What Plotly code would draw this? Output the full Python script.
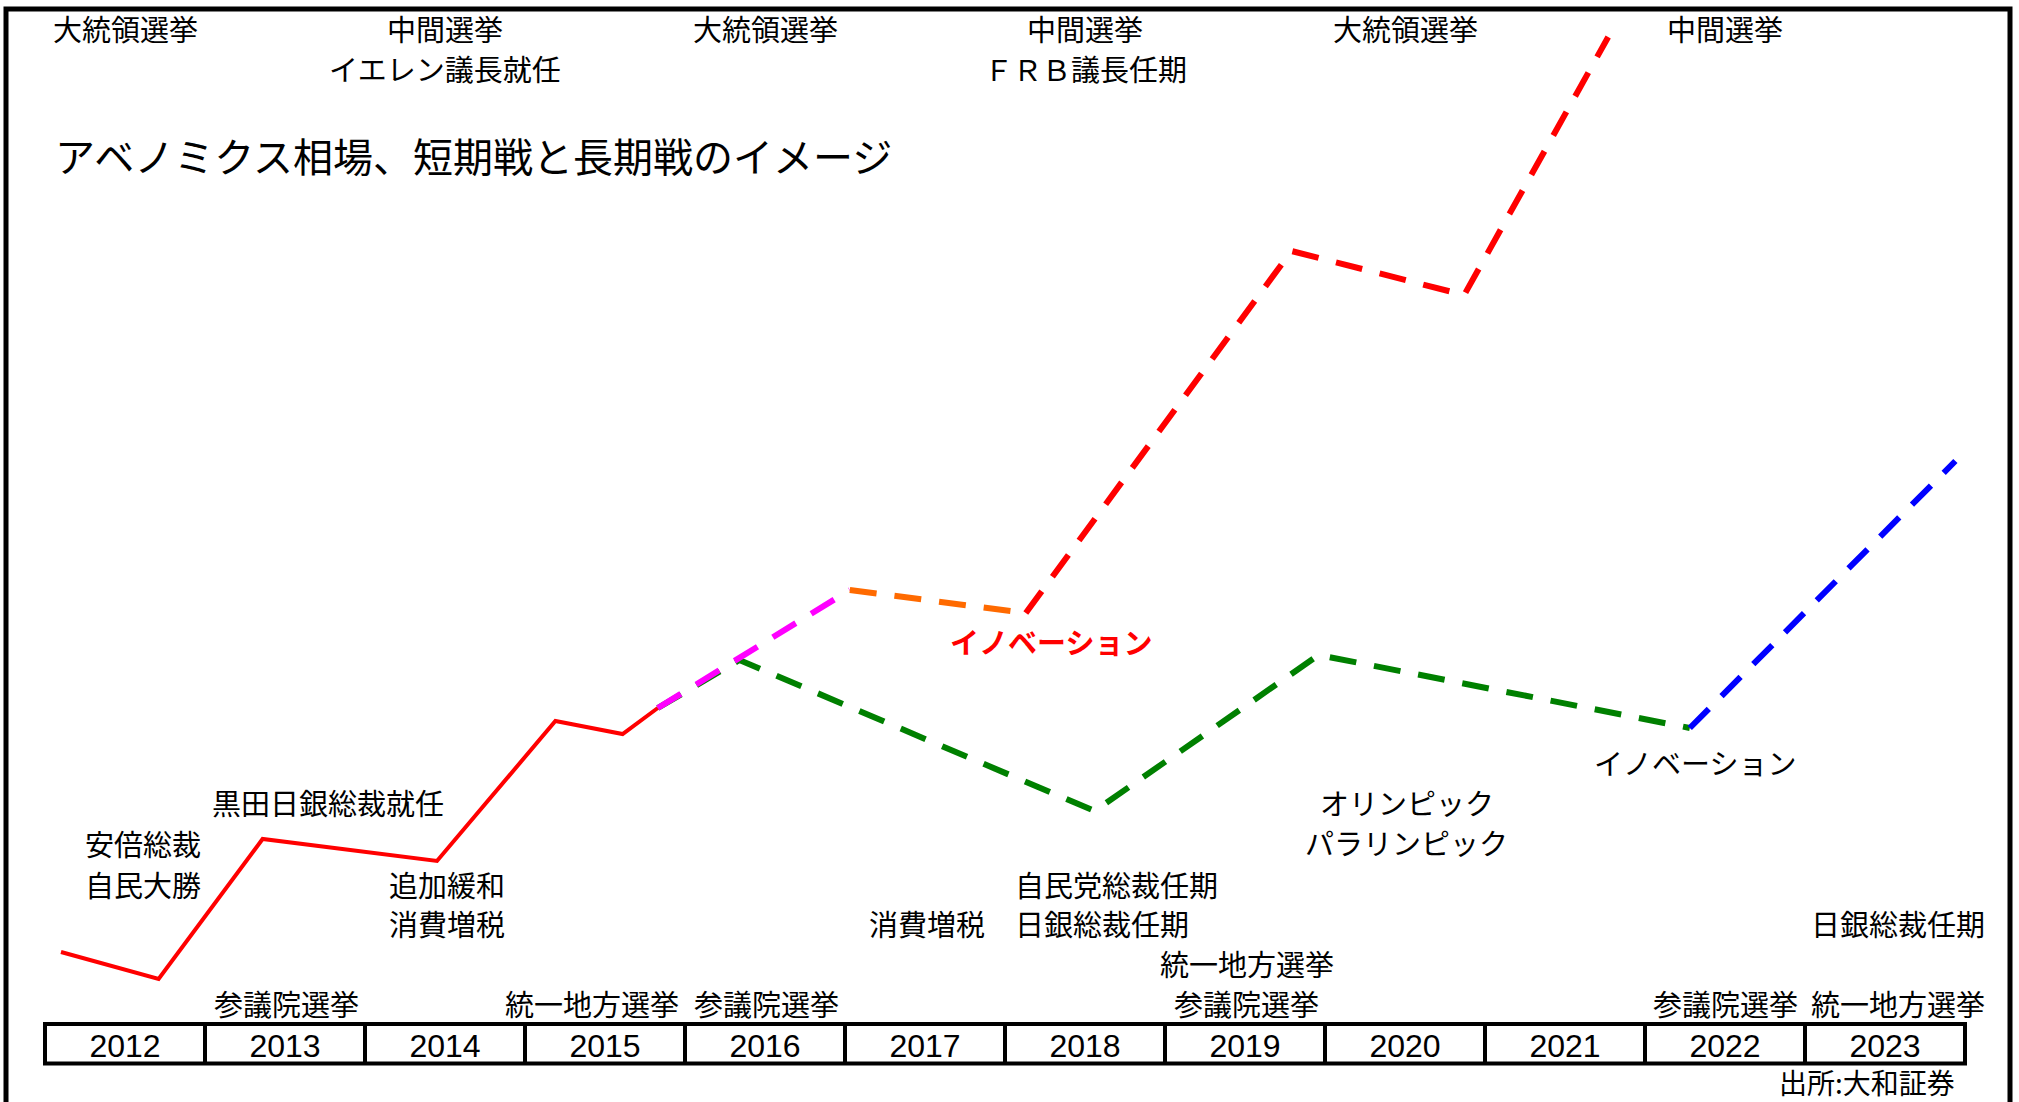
import plotly.graph_objects as go

# ---- data ---------------------------------------------------------------
years = list(range(2012, 2024))
year_labels = [str(y) for y in years]

# realised market path (solid red)
base_x = [2012.10, 2012.71, 2013.36, 2014.45, 2015.19, 2015.61, 2015.83]
base_y = [7.2, 4.5, 18.5, 16.3, 30.3, 29.0, 31.6]

# short-term scenario
short_x = [2015.83, 2017.03]
short_y = [31.6, 43.4]
plateau_x = [2017.03, 2018.13]
plateau_y = [43.4, 41.1]
boom_x = [2018.13, 2019.79, 2020.87, 2021.77]
boom_y = [41.1, 77.3, 72.9, 98.7]

# long-term scenario
long_x = [2015.83, 2016.34, 2018.56, 2019.96, 2022.28]
long_y = [31.6, 36.4, 21.3, 36.9, 29.6]
late_x = [2022.28, 2023.94]
late_y = [29.6, 56.3]

# event labels: text, x (year), y (index)
top_events = [
    ("大統領選挙", 2012.5, 99.6), ("中間選挙", 2014.5, 99.6),
    ("イエレン議長就任", 2014.5, 95.6), ("大統領選挙", 2016.5, 99.6),
    ("中間選挙", 2018.5, 99.6), ("ＦＲＢ議長任期", 2018.5, 95.6),
    ("大統領選挙", 2020.5, 99.6), ("中間選挙", 2022.5, 99.6),
]
low_events = [
    ("安倍総裁", 2012.61, 18.1), ("自民大勝", 2012.61, 14.0),
    ("黒田日銀総裁就任", 2013.77, 22.2),
    ("追加緩和", 2014.51, 14.0), ("消費増税", 2014.51, 10.1),
    ("参議院選挙", 2013.51, 2.1), ("統一地方選挙", 2015.42, 2.1),
    ("参議院選挙", 2016.51, 2.1), ("消費増税", 2017.51, 10.1),
    ("統一地方選挙", 2019.51, 6.1), ("参議院選挙", 2019.51, 2.1),
    ("オリンピック", 2020.51, 22.2), ("パラリンピック", 2020.51, 18.2),
    ("日銀総裁任期", 2023.58, 10.1), ("参議院選挙", 2022.50, 2.1),
    ("統一地方選挙", 2023.58, 2.1),
]
left_events = [("自民党総裁任期", 2018.05, 14.0), ("日銀総裁任期", 2018.05, 10.1)]

title_text = "アベノミクス相場、短期戦と長期戦のイメージ"
source_text = "出所:大和証券"

# ---- figure -------------------------------------------------------------
W, H = 2019, 1102
JP = "Noto Sans CJK JP, Noto Sans, sans-serif"
DASH = "27px,18px"

fig = go.Figure()

def add_line(xs, ys, color, dash=None, width=6):
    fig.add_trace(go.Scatter(
        x=xs, y=ys, mode="lines", hoverinfo="skip", showlegend=False,
        line=dict(color=color, width=width, dash=dash or "solid"),
    ))

add_line(base_x, base_y, "#ff0000", width=4)
add_line(long_x, long_y, "#008000", DASH)
add_line(late_x, late_y, "#0000ff", DASH)
add_line(short_x, short_y, "#ff00ff", DASH)
add_line(plateau_x, plateau_y, "#ff6a00", DASH)
add_line(boom_x, boom_y, "#ff0000", DASH)

# year table cells under the chart
table_top, table_bottom = 0.0, -3.95
shapes = [dict(type="rect", xref="x", yref="y", x0=years[0], x1=years[-1] + 1,
               y0=table_bottom, y1=table_top, line=dict(color="black", width=4))]
for y in years[1:]:
    shapes.append(dict(type="line", xref="x", yref="y", x0=y, x1=y,
                       y0=table_bottom, y1=table_top,
                       line=dict(color="black", width=4)))
# outer frame
shapes.append(dict(type="rect", xref="paper", yref="paper",
                   x0=6 / W, x1=2010 / W, y0=-0.2, y1=1 - 9 / H,
                   line=dict(color="black", width=5)))

annotations = []
def label(text, x, y, size=29, color="black", xanchor="center", bold=False):
    annotations.append(dict(
        text=f"<b>{text}</b>" if bold else text, x=x, y=y, xref="x", yref="y",
        showarrow=False, xanchor=xanchor, yanchor="middle",
        font=dict(family=JP, size=size, color=color),
    ))

for t, x, y in top_events + low_events:
    label(t, x, y)
for t, x, y in left_events:
    label(t, x, y, xanchor="left")
label("イノベーション", 2018.29, 38.3, color="#ff0000", bold=True)
label("イノベーション", 2022.31, 26.2)
label(title_text, 2012.05, 86.9, size=40, xanchor="left")
label(source_text, 2023.95, -5.8, size=28, xanchor="right")

fig.update_layout(
    width=W, height=H, margin=dict(l=0, r=0, t=0, b=0),
    paper_bgcolor="white", plot_bgcolor="white",
    shapes=shapes, annotations=annotations, showlegend=False,
    xaxis=dict(range=[2012 - 45 / 160, 2012 + (W - 45) / 160],
               tickvals=[y + 0.5 for y in years], ticktext=year_labels,
               ticks="", showgrid=False, zeroline=False, showline=False,
               anchor="free", position=(H - 1024) / H,
               tickfont=dict(family="Liberation Sans, Arial, sans-serif",
                             size=32, color="black")),
    yaxis=dict(range=[-7.8, 102.4], visible=False, showgrid=False,
               zeroline=False),
)

fig.write_html("out.html")
